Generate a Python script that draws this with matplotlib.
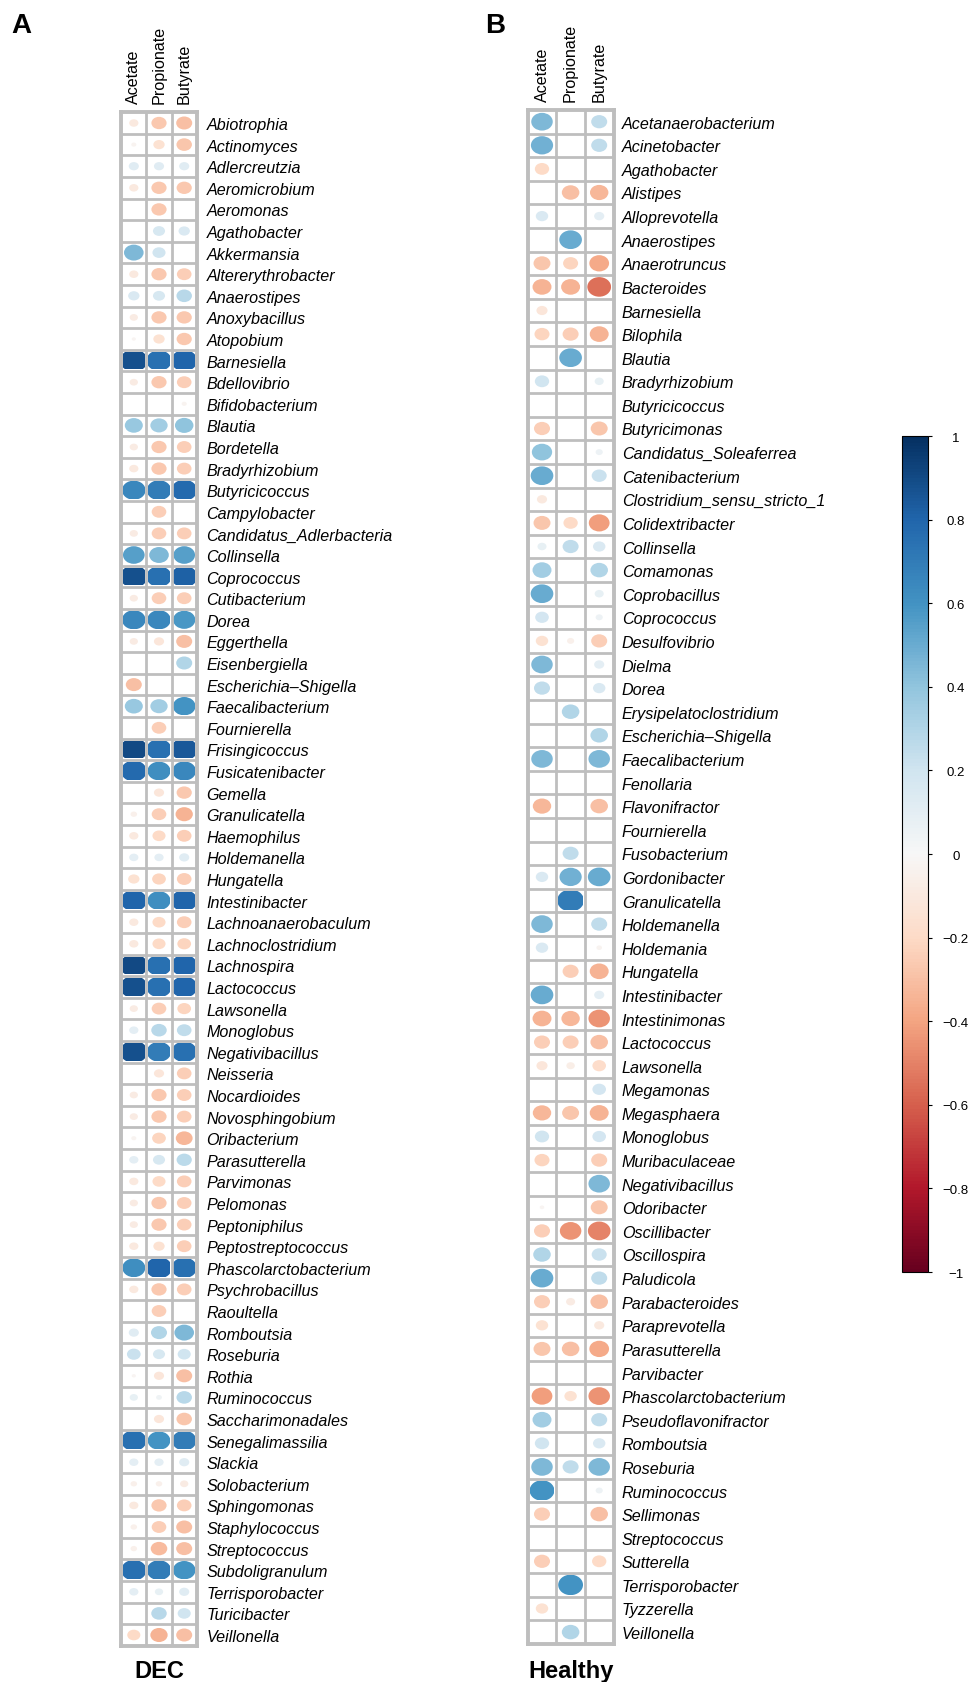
import numpy as np
import matplotlib
matplotlib.use("Agg")
import matplotlib.pyplot as plt
from matplotlib.patches import Ellipse, Rectangle
from matplotlib.colors import Normalize
from matplotlib.cm import ScalarMappable

plt.rcParams['font.family'] = ['Liberation Sans', 'DejaVu Sans']

scfa = ['Acetate', 'Propionate', 'Butyrate']

# A: DEC
dec_taxa = ['Abiotrophia', 'Actinomyces', 'Adlercreutzia', 'Aeromicrobium', 'Aeromonas',
            'Agathobacter', 'Akkermansia', 'Altererythrobacter', 'Anaerostipes', 'Anoxybacillus',
            'Atopobium', 'Barnesiella', 'Bdellovibrio', 'Bifidobacterium', 'Blautia',
            'Bordetella', 'Bradyrhizobium', 'Butyricicoccus', 'Campylobacter',
            'Candidatus_Adlerbacteria', 'Collinsella', 'Coprococcus', 'Cutibacterium', 'Dorea',
            'Eggerthella', 'Eisenbergiella', 'Escherichia\u2013Shigella', 'Faecalibacterium',
            'Fournierella', 'Frisingicoccus', 'Fusicatenibacter', 'Gemella', 'Granulicatella',
            'Haemophilus', 'Holdemanella', 'Hungatella', 'Intestinibacter',
            'Lachnoanaerobaculum', 'Lachnoclostridium', 'Lachnospira', 'Lactococcus',
            'Lawsonella', 'Monoglobus', 'Negativibacillus', 'Neisseria', 'Nocardioides',
            'Novosphingobium', 'Oribacterium', 'Parasutterella', 'Parvimonas', 'Pelomonas',
            'Peptoniphilus', 'Peptostreptococcus', 'Phascolarctobacterium', 'Psychrobacillus',
            'Raoultella', 'Romboutsia', 'Roseburia', 'Rothia', 'Ruminococcus',
            'Saccharimonadales', 'Senegalimassilia', 'Slackia', 'Solobacterium', 'Sphingomonas',
            'Staphylococcus', 'Streptococcus', 'Subdoligranulum', 'Terrisporobacter',
            'Turicibacter', 'Veillonella']
dec_acetate = [-0.10, -0.03, 0.12, -0.10, 0, 0, 0.45, -0.10, 0.15, -0.08,
               -0.02, 0.88, -0.08, 0, 0.38, -0.08, -0.10, 0.65, 0, -0.08,
               0.55, 0.88, -0.08, 0.65, -0.08, 0, -0.30, 0.38, 0, 0.90,
               0.78, 0, -0.05, -0.10, 0.10, -0.15, 0.80, -0.10, -0.10, 0.90,
               0.88, -0.08, 0.10, 0.88, 0, -0.08, -0.08, -0.03, 0.10, -0.10,
               -0.08, -0.08, -0.10, 0.62, -0.10, 0, 0.12, 0.22, -0.02, 0.08,
               0, 0.75, 0.10, -0.05, -0.10, -0.05, -0.05, 0.75, 0.10, 0, -0.20]
dec_propionate = [-0.27, -0.15, 0.12, -0.27, -0.27, 0.17, 0.20, -0.27, 0.17, -0.27,
                  -0.15, 0.75, -0.27, 0, 0.35, -0.27, -0.27, 0.70, -0.25, -0.25,
                  0.45, 0.75, -0.25, 0.65, -0.12, 0, 0, 0.35, -0.25, 0.75,
                  0.62, -0.12, -0.25, -0.20, 0.10, -0.22, 0.62, -0.20, -0.20, 0.75,
                  0.75, -0.25, 0.28, 0.70, -0.12, -0.27, -0.27, -0.22, 0.17, -0.20,
                  -0.27, -0.27, -0.15, 0.80, -0.27, -0.25, 0.30, 0.17, -0.12, 0.04,
                  -0.12, 0.60, 0.10, -0.05, -0.27, -0.25, -0.32, 0.70, 0.08, 0.28, -0.35]
dec_butyrate = [-0.30, -0.28, 0.12, -0.27, 0, 0.15, 0, -0.25, 0.28, -0.27,
                -0.27, 0.80, -0.25, -0.03, 0.40, -0.25, -0.25, 0.78, 0, -0.25,
                0.55, 0.82, -0.25, 0.58, -0.30, 0.30, 0, 0.60, 0, 0.85,
                0.65, -0.27, -0.35, -0.25, 0.12, -0.25, 0.80, -0.25, -0.22, 0.80,
                0.80, -0.22, 0.25, 0.75, -0.25, -0.25, -0.25, -0.33, 0.27, -0.25,
                -0.25, -0.25, -0.25, 0.75, -0.25, 0, 0.45, 0.20, -0.30, 0.28,
                -0.28, 0.70, 0.12, -0.08, -0.25, -0.30, -0.30, 0.60, 0.12, 0.20, -0.30]

# B: Healthy
healthy_taxa = ['Acetanaerobacterium', 'Acinetobacter', 'Agathobacter', 'Alistipes',
                'Alloprevotella', 'Anaerostipes', 'Anaerotruncus', 'Bacteroides', 'Barnesiella',
                'Bilophila', 'Blautia', 'Bradyrhizobium', 'Butyricicoccus', 'Butyricimonas',
                'Candidatus_Soleaferrea', 'Catenibacterium', 'Clostridium_sensu_stricto_1',
                'Colidextribacter', 'Collinsella', 'Comamonas', 'Coprobacillus', 'Coprococcus',
                'Desulfovibrio', 'Dielma', 'Dorea', 'Erysipelatoclostridium',
                'Escherichia\u2013Shigella', 'Faecalibacterium', 'Fenollaria', 'Flavonifractor',
                'Fournierella', 'Fusobacterium', 'Gordonibacter', 'Granulicatella',
                'Holdemanella', 'Holdemania', 'Hungatella', 'Intestinibacter', 'Intestinimonas',
                'Lactococcus', 'Lawsonella', 'Megamonas', 'Megasphaera', 'Monoglobus',
                'Muribaculaceae', 'Negativibacillus', 'Odoribacter', 'Oscillibacter',
                'Oscillospira', 'Paludicola', 'Parabacteroides', 'Paraprevotella',
                'Parasutterella', 'Parvibacter', 'Phascolarctobacterium', 'Pseudoflavonifractor',
                'Romboutsia', 'Roseburia', 'Ruminococcus', 'Sellimonas', 'Streptococcus',
                'Sutterella', 'Terrisporobacter', 'Tyzzerella', 'Veillonella']
healthy_acetate = [0.45, 0.48, -0.20, 0, 0.15, 0, -0.28, -0.35, -0.12, -0.22,
                   0, 0.20, 0, -0.25, 0.40, 0.50, -0.10, -0.28, 0.08, 0.35,
                   0.50, 0.18, -0.15, 0.45, 0.25, 0, 0, 0.45, 0, -0.33,
                   0, 0, 0.15, 0, 0.45, 0.15, 0, 0.50, -0.35, -0.25,
                   -0.12, 0, -0.33, 0.20, -0.22, 0, -0.02, -0.25, 0.30, 0.50,
                   -0.25, -0.15, -0.28, 0, -0.42, 0.35, 0.20, 0.45, 0.60, -0.25,
                   0, -0.25, 0, -0.15, 0]
healthy_propionate = [0, 0, 0, -0.30, 0, 0.50, -0.22, -0.35, 0, -0.25,
                      0.50, 0, 0, 0, 0, 0, 0, -0.20, 0.25, 0,
                      0, 0, -0.05, 0, 0, 0.30, 0, 0, 0, 0,
                      0, 0.25, 0.48, 0.70, 0, 0, -0.25, 0, -0.33, -0.25,
                      -0.07, 0, -0.28, 0, 0, 0, 0, -0.45, 0, 0,
                      -0.08, 0, -0.30, 0, -0.15, 0, 0, 0.25, 0, 0,
                      0, 0, 0.60, 0, 0.30]
healthy_butyrate = [0.25, 0.25, 0, -0.33, 0.10, 0, -0.38, -0.55, 0, -0.35,
                    0, 0.08, 0, -0.28, 0.05, 0.22, 0, -0.42, 0.15, 0.30,
                    0.08, 0.05, -0.25, 0.10, 0.15, 0, 0.30, 0.45, 0, -0.30,
                    0, 0, 0.50, 0, 0.25, -0.03, -0.35, 0.10, -0.45, -0.30,
                    -0.18, 0.18, -0.35, 0.18, -0.25, 0.45, -0.28, -0.50, 0.22, 0.25,
                    -0.30, -0.10, -0.38, 0, -0.45, 0.25, 0.15, 0.45, 0.05, -0.30,
                    0, -0.20, 0, 0, 0]

cbar_ticks = [-1, -0.8, -0.6, -0.4, -0.2, 0, 0.2, 0.4, 0.6, 0.8, 1]
cbar_labels = ['\u22121', '\u22120.8', '\u22120.6', '\u22120.4', '\u22120.2', '0',
               '0.2', '0.4', '0.6', '0.8', '1']

W, H = 969, 1683
fig = plt.figure(figsize=(W / 100, H / 100), dpi=100)
cmap = plt.get_cmap('RdBu')
norm = Normalize(-1, 1)
GRID = '#bebebe'


def px_axes(x0, y0, x1, y1):
    # 画素座標で軸を置く
    return fig.add_axes([x0 / W, 1 - y1 / H, (x1 - x0) / W, (y1 - y0) / H])


def draw_panel(ax, taxa, cols, label_pad, kx, ky):
    mat = np.column_stack(cols)
    n = len(taxa)
    ax.set_xlim(0, 3)
    ax.set_ylim(n, 0)
    for i in range(n):
        for j in range(3):
            r = mat[i, j]
            if r == 0:
                continue
            s = np.sqrt(abs(r))
            e = Ellipse((j + 0.5, i + 0.5), kx * s, ky * s,
                        facecolor=cmap(norm(r)), edgecolor='none', zorder=1)
            ax.add_patch(e)
            e.set_clip_path(Rectangle((j + 0.07, i + 0.09), 0.86, 0.82,
                                      transform=ax.transData))
    ax.hlines(np.arange(1, n), 0, 3, color=GRID, lw=2.0, zorder=2)
    ax.vlines([1, 2], 0, n, color=GRID, lw=2.0, zorder=2)
    for sp in ax.spines.values():
        sp.set_color(GRID)
        sp.set_linewidth(2.8)
    ax.set_yticks(np.arange(n) + 0.5)
    ax.set_yticklabels(taxa, fontstyle='italic', fontsize=11.6)
    ax.yaxis.tick_right()
    ax.set_xticks(np.arange(3) + 0.5)
    ax.set_xticklabels(scfa, rotation=90, fontsize=11.6)
    ax.xaxis.tick_top()
    ax.tick_params(axis='y', length=0, pad=label_pad)
    ax.tick_params(axis='x', length=0, pad=6.5)


axA = px_axes(121.2, 113.2, 196.8, 1646.8)
draw_panel(axA, dec_taxa, [dec_acetate, dec_propionate, dec_butyrate], 7, 1.16, 1.1)

axB = px_axes(527.7, 110.9, 613.5, 1644.9)
draw_panel(axB, healthy_taxa, [healthy_acetate, healthy_propionate, healthy_butyrate], 6, 1.12, 1.12)

# カラーバー
cax = px_axes(902, 437, 928, 1273)
cb = fig.colorbar(ScalarMappable(norm=norm, cmap=cmap), cax=cax, ticks=cbar_ticks)
cb.outline.set_linewidth(0.8)
cax.set_yticklabels(cbar_labels)
cax.tick_params(length=3, width=0.8, pad=17, labelsize=9.5)
for t in cax.get_yticklabels():
    t.set_horizontalalignment('center')

fig.text(11 / W, 1 - 13 / H, 'A', fontsize=20, fontweight='bold', va='top', ha='left')
fig.text(485 / W, 1 - 13 / H, 'B', fontsize=20, fontweight='bold', va='top', ha='left')
fig.text(159 / W, 1 - 1678 / H, 'DEC', fontsize=17, fontweight='bold', ha='center', va='baseline')
fig.text(571 / W, 1 - 1678 / H, 'Healthy', fontsize=17, fontweight='bold', ha='center', va='baseline')

fig.savefig('out.png', dpi=100)
plt.close(fig)
